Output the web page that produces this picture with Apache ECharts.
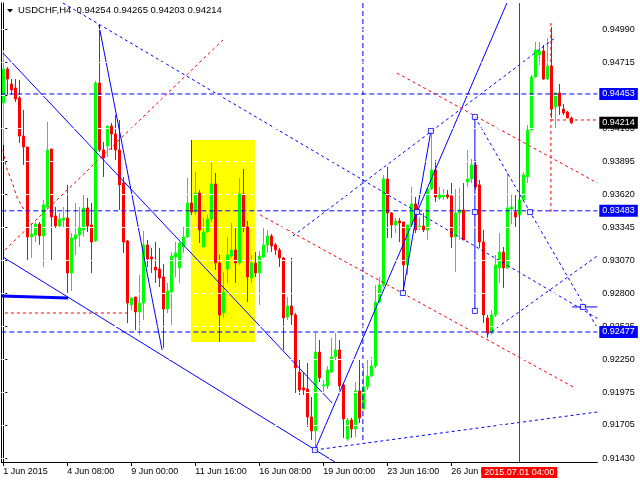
<!DOCTYPE html>
<html><head><meta charset="utf-8">
<script src="https://cdn.jsdelivr.net/npm/echarts@6/dist/echarts.min.js"></script>
<style>html,body{margin:0;padding:0;background:#fff}#c{width:640px;height:480px}</style>
</head><body><div id="c"></div>
<script>
// ---- candle data (USDCHF H4, from 1 Jun 2015 16:00) ----
const candleOpen = [0.94378,0.94660,0.94536,0.94503,0.94420,0.94104,0.94013,0.93266,0.93283,0.93374,0.93274,0.93515,0.93996,0.93440,0.93357,0.93407,0.93424,0.92967,0.93249,0.93283,0.93324,0.93507,0.93366,0.93233,0.94544,0.93988,0.94021,0.94187,0.94121,0.93988,0.93714,0.93233,0.92702,0.92768,0.92643,0.92718,0.93200,0.93100,0.93017,0.93000,0.92934,0.92668,0.92809,0.93100,0.93009,0.93183,0.93266,0.93548,0.93473,0.93631,0.93183,0.93307,0.93415,0.93706,0.93050,0.92635,0.93000,0.93108,0.93158,0.93050,0.93623,0.93349,0.92926,0.93050,0.92967,0.93100,0.93200,0.93274,0.93200,0.93158,0.93092,0.92602,0.92693,0.92619,0.92145,0.92013,0.92004,0.91772,0.91656,0.92311,0.92029,0.92029,0.92145,0.92270,0.92328,0.92038,0.91589,0.91747,0.91672,0.91988,0.91838,0.92021,0.92112,0.92195,0.92726,0.92868,0.93747,0.93465,0.93366,0.93399,0.93390,0.93034,0.93366,0.93540,0.93341,0.93357,0.93324,0.93664,0.93822,0.93590,0.93598,0.93615,0.93606,0.93266,0.93465,0.93490,0.93722,0.93747,0.93864,0.93698,0.93224,0.92594,0.92469,0.92619,0.93009,0.93141,0.93009,0.93498,0.93473,0.93449,0.93573,0.93764,0.94154,0.94594,0.94777,0.94810,0.94577,0.94685,0.94345,0.94461,0.94328,0.94303,0.94254];
const candleHigh = [0.94818,0.94677,0.94577,0.94577,0.94569,0.94320,0.94013,0.93382,0.93390,0.93390,0.93573,0.94220,0.93996,0.93515,0.93465,0.93515,0.93698,0.93299,0.93548,0.93515,0.93615,0.93590,0.93548,0.94561,0.95026,0.94054,0.94187,0.94212,0.94279,0.94237,0.93764,0.93241,0.92768,0.92768,0.92951,0.93316,0.93241,0.93175,0.93224,0.93175,0.93042,0.92884,0.93141,0.93224,0.93216,0.93349,0.93756,0.94071,0.93805,0.93656,0.93424,0.93449,0.93897,0.93797,0.93117,0.92975,0.93266,0.93382,0.93341,0.93756,0.93830,0.93399,0.93117,0.93141,0.93150,0.93341,0.93324,0.93291,0.93216,0.93175,0.93100,0.92768,0.93092,0.92635,0.92245,0.92145,0.92220,0.91938,0.92469,0.92411,0.92079,0.92195,0.92428,0.92469,0.92411,0.92054,0.91764,0.91764,0.92062,0.92245,0.92187,0.92245,0.92270,0.92868,0.92934,0.93781,0.93847,0.93473,0.93424,0.93424,0.93390,0.93366,0.93681,0.93598,0.93432,0.93465,0.93673,0.94137,0.93905,0.93681,0.93664,0.93656,0.93714,0.93664,0.93673,0.93714,0.93988,0.93913,0.93905,0.93739,0.93324,0.92619,0.92660,0.93117,0.93299,0.93183,0.93797,0.93615,0.93615,0.93615,0.93805,0.94196,0.94611,0.94884,0.94884,0.94860,0.94918,0.95009,0.94469,0.94536,0.94370,0.94312,0.94265];
const candleLow = [0.94030,0.94445,0.94445,0.94386,0.94046,0.93864,0.93075,0.93092,0.93224,0.93200,0.93017,0.93490,0.93075,0.93341,0.93349,0.93349,0.92801,0.92818,0.93117,0.93183,0.93266,0.93307,0.92967,0.93224,0.93971,0.93764,0.93930,0.93988,0.93905,0.93490,0.93133,0.92552,0.92660,0.92494,0.92453,0.92577,0.93017,0.92967,0.92884,0.92851,0.92345,0.92635,0.92536,0.92934,0.92884,0.93133,0.93258,0.93449,0.93449,0.93216,0.93183,0.93299,0.93390,0.92992,0.92394,0.92594,0.92884,0.93092,0.92884,0.93034,0.93307,0.92726,0.92884,0.92934,0.92702,0.93092,0.93133,0.93141,0.93117,0.93017,0.92328,0.92577,0.92536,0.91971,0.91955,0.91955,0.91689,0.91581,0.91506,0.92062,0.91971,0.92004,0.92137,0.92245,0.91996,0.91598,0.91573,0.91598,0.91606,0.91722,0.91830,0.91996,0.92104,0.92179,0.92718,0.92851,0.93258,0.93258,0.93299,0.93224,0.92801,0.92951,0.93341,0.93299,0.93324,0.93307,0.93241,0.93656,0.93556,0.93573,0.93573,0.93581,0.93175,0.92975,0.93241,0.93241,0.93681,0.93714,0.93656,0.93175,0.92552,0.92428,0.92453,0.92602,0.92884,0.92843,0.93000,0.93374,0.93349,0.93424,0.93573,0.93714,0.94154,0.94586,0.94694,0.94569,0.94569,0.94254,0.94171,0.94279,0.94279,0.94254,0.94203];
const candleClose = [0.94660,0.94577,0.94486,0.94411,0.94104,0.94013,0.93266,0.93291,0.93374,0.93274,0.93532,0.93988,0.93432,0.93357,0.93415,0.93424,0.92967,0.93258,0.93283,0.93341,0.93507,0.93357,0.93224,0.94544,0.93988,0.93922,0.94187,0.94121,0.93988,0.93698,0.93224,0.92718,0.92760,0.92643,0.92718,0.93200,0.93083,0.93083,0.92992,0.92926,0.92668,0.92818,0.93108,0.93133,0.93216,0.93266,0.93548,0.93473,0.93631,0.93324,0.93307,0.93415,0.93706,0.93050,0.92619,0.92809,0.93117,0.93158,0.93050,0.93623,0.93341,0.92934,0.93050,0.92967,0.93108,0.93200,0.93274,0.93191,0.93158,0.93092,0.92594,0.92693,0.92619,0.92179,0.91996,0.91996,0.91772,0.91656,0.92311,0.92096,0.92038,0.92162,0.92270,0.92328,0.92029,0.91755,0.91747,0.91672,0.91988,0.91764,0.92021,0.92112,0.92195,0.92726,0.92868,0.93747,0.93465,0.93366,0.93399,0.93382,0.93034,0.93366,0.93540,0.93324,0.93357,0.93324,0.93664,0.93822,0.93598,0.93615,0.93615,0.93598,0.93266,0.93465,0.93490,0.93241,0.93747,0.93864,0.93681,0.93224,0.92619,0.92469,0.92619,0.93034,0.93141,0.93009,0.93507,0.93515,0.93432,0.93573,0.93781,0.94154,0.94594,0.94818,0.94810,0.94577,0.94685,0.94328,0.94461,0.94353,0.94295,0.94254,0.94214];

// ---- axis labels ----
const barCount = 149;                 // 143 bars + empty chart shift
const timeTickIndex = [0, 16, 32, 48, 64, 80, 96, 112];
const timeTickLabels = ['1 Jun 2015', '4 Jun 08:00', '9 Jun 00:00', '11 Jun 16:00', '16 Jun 08:00', '19 Jun 00:00', '23 Jun 16:00', '26 Jun 08:00'];
const priceTicks = [0.91430, 0.91705, 0.91975, 0.92250, 0.92525, 0.92800, 0.93070, 0.93345, 0.93620, 0.93895, 0.94165, 0.94440, 0.94715, 0.94990];
const priceTickLabels = ['0.91430', '0.91705', '0.91975', '0.92250', '0.92525', '0.92800', '0.93070', '0.93345', '0.93620', '0.93895', '0.94165', '0.94440', '0.94715', '0.94990'];
const titleText = 'USDCHF,H4  0.94254 0.94265 0.94203 0.94214';

// ---- annotations ----
const levelPrices = [0.94453, 0.93483, 0.92477];
const bidPrice = 0.94214;
const signalBar = 129;
const signalLabel = '2015.07.01 04:00';
const yellowZone = [[46.9, 0.94071], [62.9, 0.92394]];
const blueSolidLines = [
  [[-0.1, 0.94793], [82.2, 0.91888]],
  [[-0.1, 0.93100], [82.9, 0.91398]],
  [[23.9, 0.95026], [39.7, 0.92328]],
  [[77.9, 0.91498], [125.9, 0.95208]],
  [[99.9, 0.92801], [106.9, 0.94146]],
  [[117.9, 0.94262], [117.9, 0.92652]],
  [[142.2, 0.92685], [148.5, 0.92685]]
];
const blueThickLine = [[-0.4, 0.92776], [16.2, 0.92760]];
const blueDashedLines = [
  [[14.9, 0.95208], [148.5, 0.92590]],
  [[72.4, 0.93274], [137.9, 0.94918]],
  [[117.9, 0.94262], [148.5, 0.92511]],
  [[120.9, 0.92453], [148.5, 0.93108]],
  [[77.9, 0.91498], [148.5, 0.91813]]
];
const blueDashedVertical = [[89.9, 0.95208], [89.9, 0.91556]];
const redDashedLines = [
  [[0.4, 0.93158], [54.9, 0.94901]],
  [[-0.1, 0.93988], [0.7, 0.93847], [2.2, 0.93722], [3.4, 0.93598], [5.2, 0.93490]],
  [[0.4, 0.92635], [31.2, 0.92635]],
  [[64.2, 0.93449], [142.9, 0.92013]],
  [[98.4, 0.94627], [148.5, 0.93714]],
  [[136.9, 0.95042], [136.9, 0.93449]],
  [[136.9, 0.94237], [148.5, 0.94237]]
];
const blueSquares = [[77.9, 0.91498], [99.9, 0.92801], [106.9, 0.94146], [103.4, 0.93473], [117.9, 0.94262], [117.9, 0.93473], [117.9, 0.92652], [144.9, 0.92685], [131.7, 0.93473]];

const BLUE = '#0000ff', RED = '#ff0000', GREEN = '#00ff00';
const FONT = 'Liberation Sans';
const Y_MIN = 0.91398, Y_MAX = 0.95208, X_MIN = -0.5, X_MAX = barCount - 0.5;
const categories = Array.from({length: barCount}, (_, i) => String(i));
const showTime = (idx) => timeTickIndex.indexOf(idx) >= 0;

function lineSeries(points, color, type, width, z) {
  return { type: 'line', xAxisIndex: 1, yAxisIndex: 0, data: points, showSymbol: false, symbol: 'none',
    itemStyle: { color: color }, lineStyle: { color: color, type: type, width: width },
    silent: true, z: z || 4, animation: false, clip: false };
}
function badgeSeries(price, bg, z) {
  const clear = { color: 'rgba(255,255,255,0)', width: 1, type: 'solid' };
  return { type: 'line', xAxisIndex: 1, yAxisIndex: 0, data: [], z: z, silent: true,
    markLine: { silent: true, symbol: ['none', 'none'], lineStyle: clear,
      label: { show: true, position: 'end', distance: 2, formatter: price.toFixed(5), color: '#fff', backgroundColor: bg,
        padding: [2, 3, 1, 3], fontFamily: FONT, fontSize: 9, lineHeight: 9 },
      data: [[{ coord: [X_MIN, price] }, { coord: [X_MAX, price] }]] } };
}

const series = [];
series.push({ type: 'line', xAxisIndex: 1, data: [], z: 0, silent: true,
  markArea: { silent: true, itemStyle: { color: '#ffff00', opacity: 1 },
    data: [[{ coord: yellowZone[0] }, { coord: yellowZone[1] }]] } });
series.push({ type: 'line', xAxisIndex: 1, data: [], z: 1, silent: true, itemStyle: { color: '#ffffff' },
  markLine: { silent: true, symbol: ['none', 'none'], label: { show: false },
    lineStyle: { color: '#ffffff', type: [4, 4], width: 1 },
    data: priceTicks.map(v => [{ coord: [X_MIN, v] }, { coord: [X_MAX, v] }]) } });
series.push({ type: 'candlestick', xAxisIndex: 0, yAxisIndex: 0, z: 2, barWidth: 2,
  data: candleOpen.map((o, i) => [o, candleClose[i], candleLow[i], candleHigh[i]]),
  itemStyle: { color: GREEN, color0: RED, borderColor: GREEN, borderColor0: RED, borderWidth: 1 } });
levelPrices.forEach(p => series.push(lineSeries([[X_MIN, p], [X_MAX, p]], BLUE, [5, 3], 1, 3)));
blueSolidLines.forEach(l => series.push(lineSeries(l, BLUE, 'solid', 1)));
series.push(lineSeries(blueThickLine, BLUE, 'solid', 3));
blueDashedLines.forEach(l => series.push(lineSeries(l, BLUE, [3, 3], 1)));
series.push(lineSeries(blueDashedVertical, BLUE, [5, 3], 1));
redDashedLines.forEach(l => series.push(lineSeries(l, RED, [3, 3], 1)));
series.push({ type: 'scatter', xAxisIndex: 1, data: blueSquares, symbol: 'rect', symbolSize: 5, z: 6, silent: true,
  itemStyle: { color: '#ffffff', borderColor: BLUE, borderWidth: 1 } });
levelPrices.forEach(p => series.push(badgeSeries(p, BLUE, 7)));
series.push(badgeSeries(bidPrice, '#000000', 8));
series.push({ type: 'line', xAxisIndex: 1, data: [], z: 5, silent: true, itemStyle: { color: RED },
  markLine: { silent: true, symbol: ['none', 'none'],
    lineStyle: { color: RED, type: 'solid', width: 1 },
    label: { show: true, position: 'start', distance: 5, formatter: signalLabel, color: '#fff', backgroundColor: RED,
      padding: [1, 3, 1, 3], fontFamily: FONT, fontSize: 9, lineHeight: 9 },
    data: [[{ coord: [signalBar, Y_MIN] }, { coord: [signalBar, Y_MAX] }]] } });

const option = {
  animation: false,
  backgroundColor: '#ffffff',
  title: { text: titleText, left: 18, top: 5, padding: 0,
    textStyle: { fontFamily: FONT, fontSize: 9.5, fontWeight: 'normal', color: '#000' } },
  graphic: [{ type: 'polygon', shape: { points: [[7, 9], [13, 9], [10, 12.5]] }, style: { fill: '#000' }, z: 10 }],
  grid: { left: 1.3, right: 42.7, top: 3, bottom: 18 },
  xAxis: [
    { type: 'category', data: categories, boundaryGap: true,
      axisLine: { show: true, lineStyle: { color: '#000', width: 1 } },
      axisTick: { show: true, alignWithLabel: true, interval: showTime, length: 4, lineStyle: { color: '#000' } },
      axisLabel: { interval: showTime, align: 'left', margin: 5, color: '#000', fontFamily: FONT, fontSize: 9,
        formatter: (val, idx) => timeTickLabels[timeTickIndex.indexOf(idx)] || '' },
      splitLine: { show: false } },
    { type: 'value', min: X_MIN, max: X_MAX, show: false }
  ],
  yAxis: [
    { type: 'value', position: 'right', min: Y_MIN, max: Y_MAX, scale: true, z: 1,
      axisLine: { show: true, lineStyle: { color: '#000', width: 1 } },
      axisTick: { show: true, length: 4, customValues: priceTicks, lineStyle: { color: '#000' } },
      axisLabel: { show: true, margin: 5, color: '#000', fontFamily: FONT, fontSize: 9, customValues: priceTicks,
        formatter: (v) => { const k = priceTicks.findIndex(t => Math.abs(t - v) < 1e-7); return k >= 0 ? priceTickLabels[k] : v.toFixed(5); } },
      splitLine: { show: false } },
    { type: 'value', position: 'left', min: Y_MIN, max: Y_MAX, scale: true,
      axisLine: { show: true, lineStyle: { color: '#000', width: 1 } },
      axisTick: { show: false }, axisLabel: { show: false }, splitLine: { show: false } }
  ],
  series: series
};
const chart = echarts.init(document.getElementById('c'), null, { renderer: 'canvas' });
chart.setOption(option);
</script></body></html>
